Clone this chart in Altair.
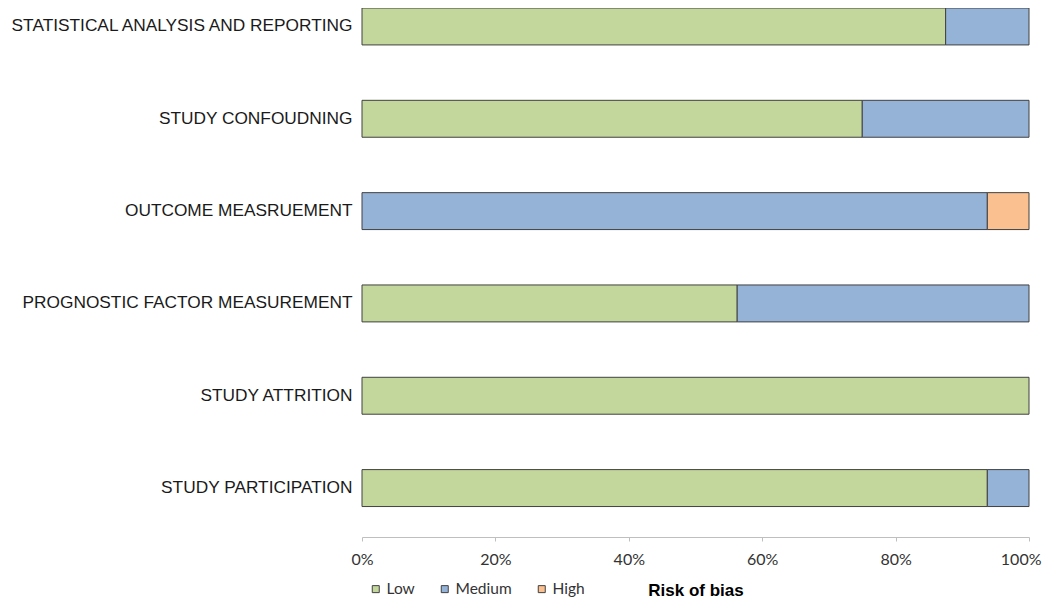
import altair as alt
import pandas as pd

categories = [
    "STATISTICAL ANALYSIS AND REPORTING",
    "STUDY CONFOUDNING",
    "OUTCOME MEASRUEMENT",
    "PROGNOSTIC FACTOR MEASUREMENT",
    "STUDY ATTRITION",
    "STUDY PARTICIPATION",
]
low = [87.5, 75.0, 0.0, 56.25, 100.0, 93.75]
medium = [12.5, 25.0, 93.75, 43.75, 0.0, 6.25]
high = [0.0, 0.0, 6.25, 0.0, 0.0, 0.0]
levels = ["Low", "Medium", "High"]
colors = ["#C3D69B", "#95B3D7", "#FAC090"]
tick_values = [0, 0.2, 0.4, 0.6, 0.8, 1.0]

rows = []
for i, c in enumerate(categories):
    for j, (lev, vals) in enumerate(zip(levels, [low, medium, high])):
        if vals[i] > 0:
            rows.append({"domain": c, "risk": lev, "order": j, "value": vals[i] / 100})
df = pd.DataFrame(rows)

chart = alt.Chart(df).mark_bar(stroke="#404040", strokeWidth=1).encode(
    y=alt.Y(
        "domain:N",
        sort=categories,
        title=None,
        scale=alt.Scale(paddingInner=0.6, paddingOuter=0.165, align=0),
        axis=alt.Axis(
            domain=False, ticks=False, labelFont="Liberation Sans", labelFontSize=17.3,
            labelColor="#1a1a1a", labelPadding=10, labelLimit=420,
        ),
    ),
    x=alt.X(
        "value:Q",
        stack="zero",
        scale=alt.Scale(domain=[0, 1], nice=False),
        title="Risk of bias",
        axis=alt.Axis(
            format="%", values=tick_values, grid=False, domainColor="#BFBFBF",
            tickColor="#BFBFBF", tickSize=4, labelFont="Lato", labelFontSize=16,
            labelColor="#333333", labelPadding=10, labelFlush=False,
            labelAlign={"condition": {"test": "datum.value >= 1", "value": "right"}, "value": "center"},
            labelOffset={"condition": {"test": "datum.value >= 1", "value": 12}, "value": 0},
            titleFont="Liberation Sans",
            titleFontSize=17, titleFontWeight="bold", titleColor="#000000",
            titleBaseline="alphabetic", titleY=58,
        ),
    ),
    color=alt.Color(
        "risk:N",
        scale=alt.Scale(domain=levels, range=colors),
        legend=alt.Legend(
            title=None, orient="none", legendX=6, legendY=573, direction="horizontal",
            symbolType="square", symbolSize=49, symbolStrokeColor="#404040",
            symbolStrokeWidth=1, labelFont="Lato", labelFontSize=15.5,
            labelColor="#333333", labelOffset=3, columnPadding=22,
        ),
    ),
    order=alt.Order("order:Q"),
).properties(
    width=667,
    height=529,
    padding={"left": 354, "top": 0, "right": 13, "bottom": 66},
    autosize=alt.AutoSizeParams(type="none"),
).configure_view(stroke=None)

chart.save("out.html", embed_options={"renderer": "svg", "actions": False})
